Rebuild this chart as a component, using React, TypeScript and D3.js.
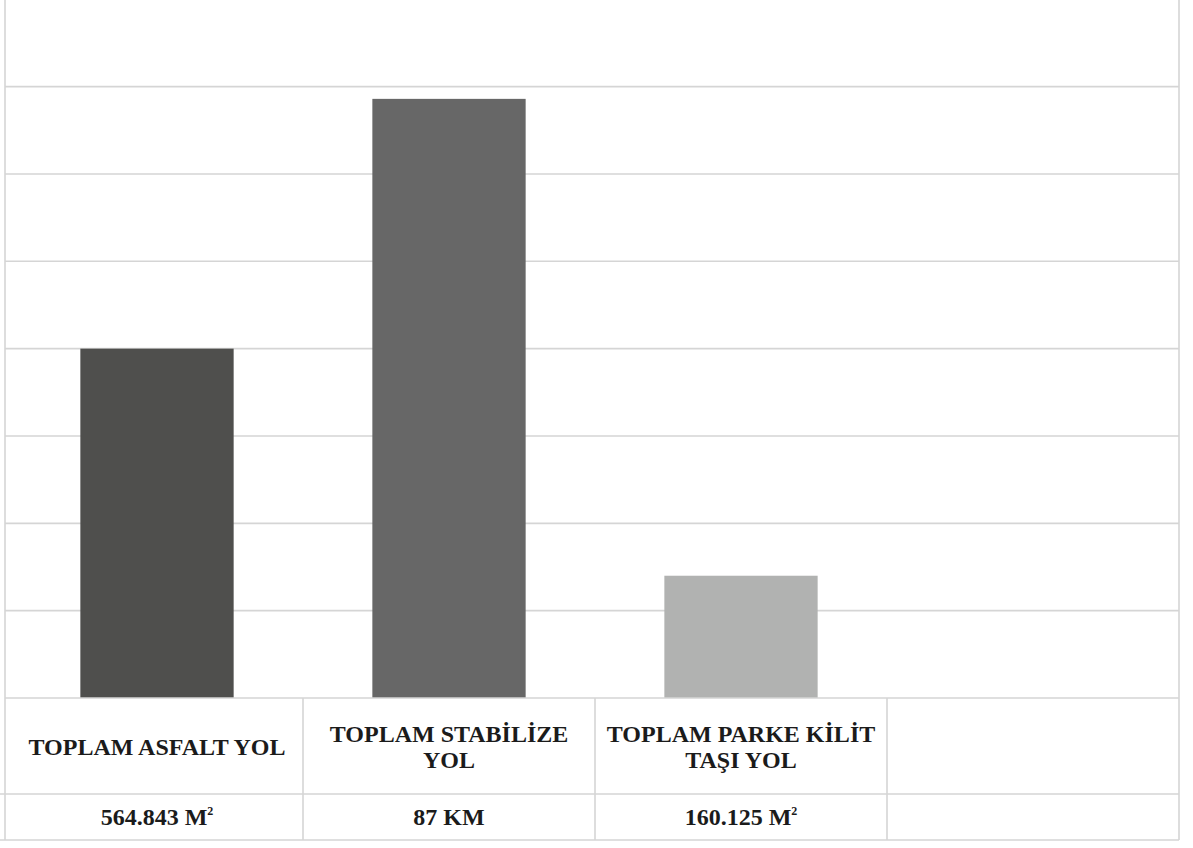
import React from "react";
import * as d3 from "d3";

const categories: string[] = ["asfalt", "stabilize", "parke", "empty"];
const headerLines: string[][] = [
  ["TOPLAM ASFALT YOL"],
  ["TOPLAM STABİLİZE", "YOL"],
  ["TOPLAM PARKE KİLİT", "TAŞI YOL"],
  [],
];
const valueMain: string[] = ["564.843 M", "87 KM", "160.125 M", ""];
const valueSup: string[] = ["2", "", "2", ""];
// bar heights in grid units
const barValues: (number | null)[] = [4.0, 6.86, 1.4, null];
const gridTicks: number[] = [1, 2, 3, 4, 5, 6, 7, 8];
const barColors: string[] = ["#4f4f4d", "#676767", "#b1b2b1", "#ffffff"];

const W = 1193;
const H = 848;
const frameLeft = 5;
const frameRight = 1179;
const plotTop = -0.7;
const plotBottom = 698;
const headerBottom = 794;
const tableBottom = 840;
const gridColor = "#d5d5d5";
const gridW = 1.6;

export default function App() {
  const x = d3.scaleBand<string>().domain(categories).range([11, frameRight]).padding(0);
  const y = d3.scaleLinear().domain([0, 8]).range([plotBottom, plotTop]);
  const barW = x.bandwidth() * 0.525;
  const font = "Liberation Serif, DejaVu Serif, serif";
  const fs = 24;
  const lh = 26;
  const headerCenter = (plotBottom + headerBottom) / 2;
  const valueCenter = (headerBottom + tableBottom) / 2;
  const textStyle: React.CSSProperties = {
    fontFamily: font,
    fontWeight: 700,
    fontSize: fs,
  };

  return (
    <svg
      width={W}
      height={H}
      style={{ position: "absolute", left: 0, top: 0, background: "#fff" }}
    >
      {gridTicks.map((t) => (
        <line
          key={t}
          x1={frameLeft}
          x2={frameRight}
          y1={y(t)}
          y2={y(t)}
          stroke={gridColor}
          strokeWidth={gridW}
        />
      ))}
      {categories.map((c, i) =>
        barValues[i] == null ? null : (
          <rect
            key={c}
            x={(x(c) as number) + (x.bandwidth() - barW) / 2}
            y={y(barValues[i] as number)}
            width={barW}
            height={y(0) - y(barValues[i] as number)}
            fill={barColors[i]}
          />
        )
      )}
      <line x1={frameLeft} x2={frameRight} y1={plotBottom} y2={plotBottom} stroke={gridColor} strokeWidth={gridW} />
      <line x1={0} x2={frameRight} y1={headerBottom} y2={headerBottom} stroke={gridColor} strokeWidth={gridW} />
      <line x1={0} x2={frameRight} y1={tableBottom} y2={tableBottom} stroke={gridColor} strokeWidth={gridW} />
      <line x1={frameLeft} x2={frameLeft} y1={0} y2={tableBottom} stroke={gridColor} strokeWidth={gridW} />
      <line x1={frameRight} x2={frameRight} y1={0} y2={tableBottom} stroke={gridColor} strokeWidth={gridW} />
      {categories.slice(1).map((c) => (
        <line
          key={"div" + c}
          x1={x(c) as number}
          x2={x(c) as number}
          y1={plotBottom}
          y2={tableBottom}
          stroke={gridColor}
          strokeWidth={gridW}
        />
      ))}
      {categories.map((c, i) => {
        const lines = headerLines[i];
        const cx = (x(c) as number) + x.bandwidth() / 2;
        const first = headerCenter + 9 - ((lines.length - 1) * lh) / 2;
        return (
          <text key={"h" + c} x={cx} y={first} textAnchor="middle" style={textStyle} fill="#1b1b1b">
            {lines.map((l, j) => (
              <tspan key={j} x={cx} dy={j === 0 ? 0 : lh}>
                {l}
              </tspan>
            ))}
          </text>
        );
      })}
      {categories.map((c, i) => {
        const cx = (x(c) as number) + x.bandwidth() / 2;
        return (
          <text key={"v" + c} x={cx} y={valueCenter + 8} textAnchor="middle" style={textStyle} fill="#1b1b1b">
            {valueMain[i]}
            {valueSup[i] ? (
              <tspan style={{ fontSize: 12 }} dy={-10}>
                {valueSup[i]}
              </tspan>
            ) : null}
          </text>
        );
      })}
    </svg>
  );
}
